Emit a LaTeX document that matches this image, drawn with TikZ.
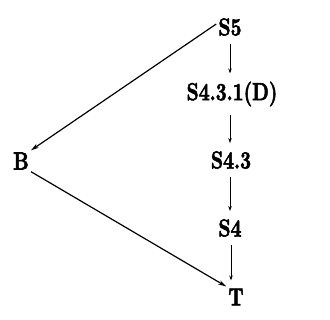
\documentclass[tikz,border=0pt]{standalone}
\usepackage{fontspec}
\usepackage{graphicx}
\usetikzlibrary{arrows.meta}
\newfontfamily\lblfont{lmroman10-bold.otf}[FakeBold=2.5]
\newcommand{\tall}[1]{\scalebox{1}[1.3]{#1}}
\begin{document}
\begin{tikzpicture}[x=1pt,y=-1pt,
  lbl/.style={font=\lblfont\fontsize{19}{24}\selectfont, inner sep=2pt},
  varr/.style={-{Stealth[length=5pt,width=3.5pt]}, line width=0.8pt, shorten >=6pt, shorten <=6pt},
  darr/.style={-{Stealth[length=8pt,width=4.5pt]}, line width=1.2pt}]
\useasboundingbox (0,0) rectangle (330,320);
\node[lbl] (S5) at (230,27) {\tall{S5}};
\node[lbl] (S431) at (232,94) {\tall{S4.3.1(D)}};
\node[lbl] (S43) at (231,160) {\tall{S4.3}};
\node[lbl] (S4) at (230,228) {\tall{S4}};
\node[lbl] (T) at (236,297) {\tall{T}};
\node[lbl] (B) at (21,161) {\tall{B}};
\draw[varr] (S5.south -| 230,0) -- (S431.north -| 230,0);
\draw[varr] (S431.south -| 230,0) -- (S43.north -| 230,0);
\draw[varr] (S43.south -| 230,0) -- (S4.north -| 230,0);
\draw[varr] (S4.south -| 231,0) -- (T.north -| 231,0);
\draw[darr] ([yshift=3pt]S5.west) -- (B.north east);
\draw[darr] (B.south east) -- (T.north west);
\end{tikzpicture}
\end{document}
